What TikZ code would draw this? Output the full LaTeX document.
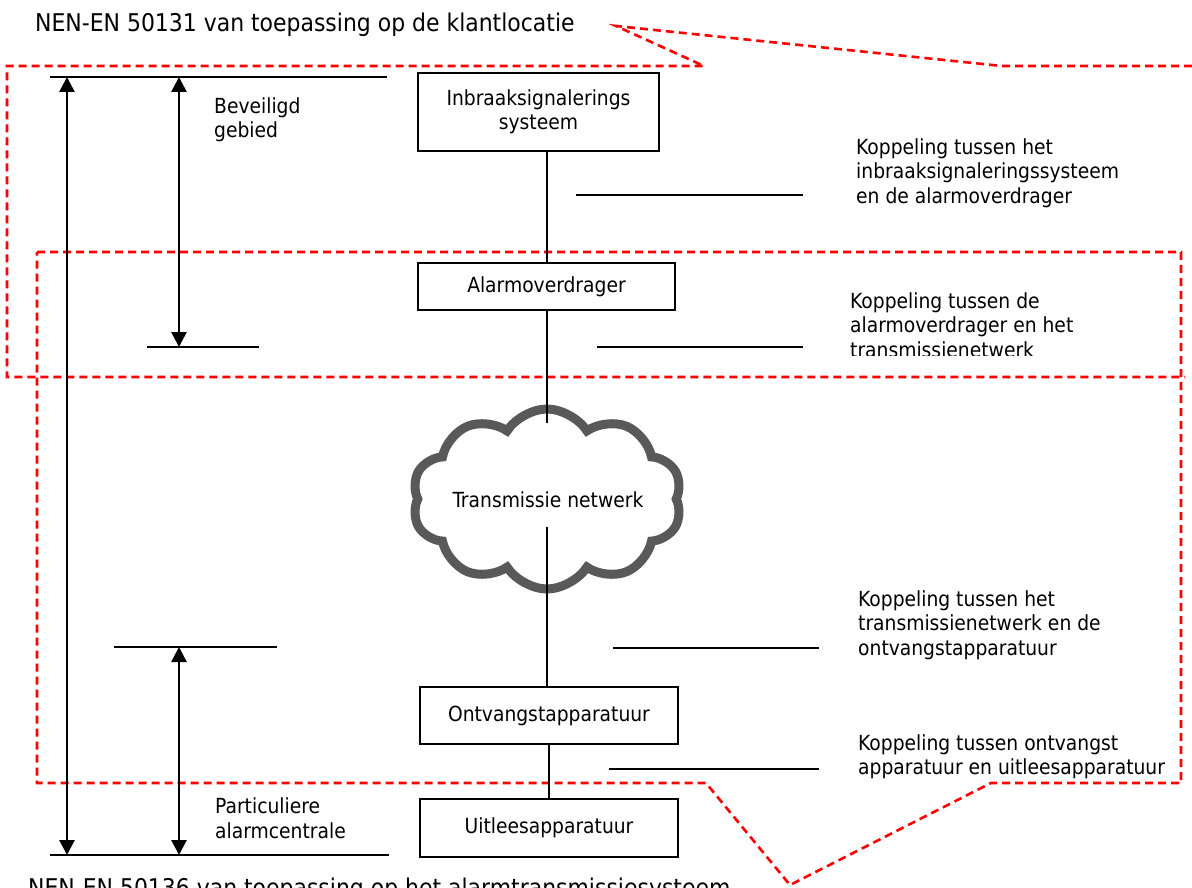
\documentclass[tikz,border=0pt]{standalone}
\usepackage{fontspec}
\setmainfont{DejaVu Sans Condensed}
\usetikzlibrary{arrows.meta,shapes.symbols}
\begin{document}
\begin{tikzpicture}[x=1pt,y=-1pt,
  txt/.style={font=\fontsize{20.8}{24.5}\selectfont, align=left, inner sep=0pt, anchor=west},
  ttl/.style={font=\fontsize{24.4}{28}\selectfont, inner sep=0pt, anchor=west},
  boxn/.style={draw, line width=2.6pt, font=\fontsize{20.8}{24.5}\selectfont, align=center, inner sep=0pt, fill=white},
  bar/.style={line width=2.7pt},
  conn/.style={line width=2.2pt},
  dimarr/.style={line width=2.7pt, {Triangle[width=15pt,length=15pt]}-{Triangle[width=15pt,length=15pt]}},
  reddash/.style={draw=red, line width=2.6pt, dash pattern=on 8pt off 5pt},
]
\clip (0,0) rectangle (1192,888);
\fill[white] (0,0) rectangle (1192,888);

% titles
\node[ttl] (t1) at (35,25) {NEN-EN 50131 van toepassing op de klantlocatie};
\node[ttl] (t2) at (28,890) {NEN-EN 50136 van toepassing op het alarmtransmissiesysteem};

% red dashed callout regions
\draw[reddash] (1192,66) -- (1002,66) -- (616,26) -- (704,66) -- (7,66) -- (7,377) -- (1185,377);
\draw[reddash] (37,252) -- (1181,252) -- (1181,783) -- (991,783) -- (790,885) -- (706,783) -- (37,783) -- cycle;

% cloud
\node[cloud, cloud puffs=10, cloud puff arc=115, aspect=1.5, draw=black!65, line width=9pt, fill=white,
      minimum width=270pt, minimum height=180pt, inner sep=0pt] (net) at (547,499) {};
\node[font=\fontsize{20.8}{24.5}\selectfont, inner sep=0pt] (netl) at (548,500) {Transmissie netwerk};

% boxes
\node[boxn, minimum width=241pt, minimum height=78pt] (ibs) at (538.5,112) {Inbraaksignalerings\\systeem};
\node[boxn, minimum width=257pt, minimum height=47pt] (amo) at (546.5,286.5) {Alarmoverdrager};
\node[boxn, minimum width=258pt, minimum height=57pt] (ont) at (549,715.5) {Ontvangstapparatuur};
\node[boxn, minimum width=258pt, minimum height=58pt] (uit) at (549,828) {Uitleesapparatuur};

% vertical connectors
\coordinate (c1) at (547,423);
\coordinate (c2) at (547,527);
\draw[conn] (ibs.south -| c1) -- (amo.north -| c1);
\draw[conn] (amo.south -| c1) -- (c1);
\draw[conn] (c2) -- (ont.north -| c2);
\draw[conn] (ont.south) -- (uit.north);

% coupling marker lines
\draw[bar] (576,195) -- (803,195);
\draw[bar] (597,347) -- (803,347);
\draw[bar] (613,648) -- (819,648);
\draw[bar] (609,769) -- (819,769);

% coupling labels
\node[txt] (k1) at (856,173) {Koppeling tussen het\\inbraaksignaleringssysteem\\en de alarmoverdrager};
\begin{scope}
\clip (830,280) rectangle (1120,355);
\node[txt] (k2) at (850,325) {Koppeling tussen de\\alarmoverdrager en het\\transmissienetwerk};
\end{scope}
\node[txt] (k3) at (858,625) {Koppeling tussen het\\transmissienetwerk en de\\ontvangstapparatuur};
\node[txt] (k4) at (858,757) {Koppeling tussen ontvangst\\apparatuur en uitleesapparatuur};

% dimension bars and arrows
\coordinate (b1l) at (50,77);   \coordinate (b1r) at (387,77);
\coordinate (b2l) at (147,347); \coordinate (b2r) at (259,347);
\coordinate (b3l) at (114,647); \coordinate (b3r) at (277,647);
\coordinate (b4l) at (50,855);  \coordinate (b4r) at (389,855);
\draw[bar] (b1l) -- (b1r);
\draw[bar] (b2l) -- (b2r);
\draw[bar] (b3l) -- (b3r);
\draw[bar] (b4l) -- (b4r);
\coordinate (aA1) at (67,77);  \coordinate (aA2) at (67,855);
\coordinate (aB1) at (179,77); \coordinate (aB2) at (179,347);
\coordinate (aC1) at (179,647);\coordinate (aC2) at (179,855);
\draw[dimarr] (aA1) -- (aA2);
\draw[dimarr] (aB1) -- (aB2);
\draw[dimarr] (aC1) -- (aC2);

\node[txt] (bev) at (214,120) {Beveiligd\\gebied};
\node[txt] (pac) at (215,818) {Particuliere\\alarmcentrale};
\end{tikzpicture}
\end{document}
